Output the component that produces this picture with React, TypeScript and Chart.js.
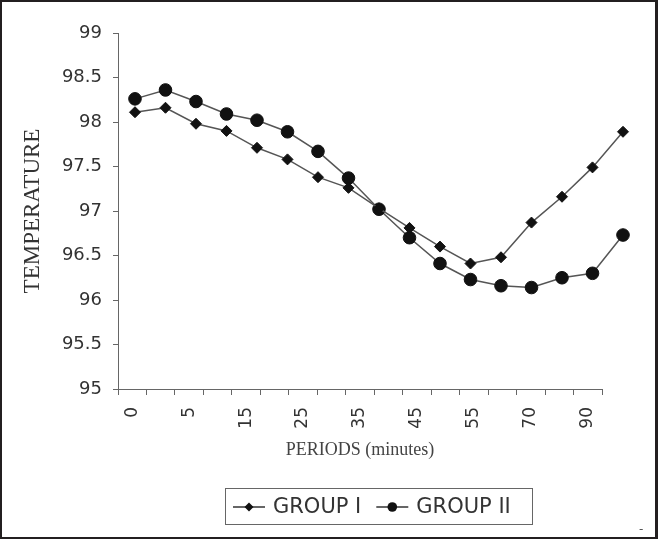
import { useEffect, useRef } from 'react';
import { Chart, registerables } from 'chart.js';
Chart.register(...registerables);

const periods = ['0', '2', '5', '10', '15', '20', '25', '30', '35', '40', '45', '50', '55', '60', '70', '80', '90'];
const groupI = [98.11, 98.16, 97.98, 97.9, 97.71, 97.58, 97.38, 97.26, 97.03, 96.81, 96.6, 96.41, 96.48, 96.87, 97.16, 97.49, 97.89];
const groupII = [98.26, 98.36, 98.23, 98.09, 98.02, 97.89, 97.67, 97.37, 97.02, 96.7, 96.41, 96.23, 96.16, 96.14, 96.25, 96.3, 96.73];
const seriesNames = ['GROUP I', 'GROUP II'];
const yMin = 95;
const yMax = 99;
const yStep = 0.5;

const axisTrimPlugin = {
  id: 'axisTrim',
  afterLayout(chart: any) {
    const s = chart.scales.x;
    s.right = 602;
    s.width = s.right - s.left;
    s.configure();
    s._labelItems = null;
    s._gridLineItems = null;
  },
};

const legendPlugin = {
  id: 'boxLegend',
  afterDraw(chart: any) {
    const ctx = chart.ctx;
    ctx.save();
    ctx.strokeStyle = '#666';
    ctx.lineWidth = 1;
    ctx.strokeRect(225.5, 488.5, 307, 36);
    ctx.font = '21px "DejaVu Sans"';
    ctx.textBaseline = 'middle';
    ctx.fillStyle = '#333';
    const cy = 507;
    let x = 233;
    chart.data.datasets.forEach((ds: any) => {
      ctx.strokeStyle = '#333';
      ctx.lineWidth = 1.5;
      ctx.beginPath();
      ctx.moveTo(x, cy);
      ctx.lineTo(x + 32, cy);
      ctx.stroke();
      ctx.fillStyle = '#111';
      ctx.beginPath();
      const mx = x + 16;
      if (ds.pointStyle === 'rectRot') {
        const r = 4.5;
        ctx.moveTo(mx, cy - r);
        ctx.lineTo(mx + r, cy);
        ctx.lineTo(mx, cy + r);
        ctx.lineTo(mx - r, cy);
        ctx.closePath();
      } else {
        ctx.arc(mx, cy, 4.8, 0, Math.PI * 2);
      }
      ctx.fill();
      x += 40;
      ctx.fillStyle = '#333';
      ctx.fillText(ds.label, x, cy + 1);
      x += ctx.measureText(ds.label).width + 15;
    });
    ctx.font = '12px "DejaVu Sans"';
    ctx.fillStyle = '#555';
    ctx.fillText('-', 639, 530);
    ctx.restore();
  },
};

export default function App() {
  const ref = useRef<HTMLCanvasElement | null>(null);
  useEffect(() => {
    if (!ref.current) return;
    const chart = new Chart(ref.current, {
      type: 'line',
      data: {
        labels: periods,
        datasets: [
          {
            label: seriesNames[0],
            data: groupI.map((v, i) => ({ x: i, y: v })),
            xAxisID: 'x2',
            borderColor: '#555',
            borderWidth: 1.5,
            pointStyle: 'rectRot',
            pointRadius: 5.5,
            pointBackgroundColor: '#111',
            pointBorderColor: '#111',
            pointBorderWidth: 1,
            tension: 0,
            clip: false,
          } as any,
          {
            label: seriesNames[1],
            data: groupII.map((v, i) => ({ x: i, y: v })),
            xAxisID: 'x2',
            borderColor: '#555',
            borderWidth: 1.5,
            pointStyle: 'circle',
            pointRadius: 6.3,
            pointBackgroundColor: '#111',
            pointBorderColor: '#111',
            pointBorderWidth: 1,
            tension: 0,
            clip: false,
          } as any,
        ],
      },
      options: {
        responsive: false,
        animation: false,
        layout: { padding: { left: 0, right: 26, top: 33, bottom: 70 } },
        plugins: { legend: { display: false }, tooltip: { enabled: false } },
        scales: {
          x: {
            type: 'category',
            offset: true,
            grid: { offset: true, drawOnChartArea: false, tickLength: 6, color: '#666' },
            border: { color: '#666', width: 1 },
            ticks: {
              autoSkip: false,
              maxRotation: 90,
              minRotation: 90,
              padding: 12,
              color: '#333',
              font: { family: '"DejaVu Sans"', size: 17 },
              callback: (_v: any, i: number) => (i % 2 === 0 ? periods[i] : ''),
            },
            title: {
              display: true,
              text: 'PERIODS (minutes)',
              color: '#444',
              font: { family: '"Liberation Serif"', size: 18 },
              padding: { top: 0, bottom: 8 },
            },
            afterFit: (s: any) => {
              s.height = 80;
            },
          },
          x2: {
            type: 'linear',
            display: false,
            min: -0.557,
            max: 16.295,
          },
          y: {
            min: yMin,
            max: yMax,
            grid: { drawOnChartArea: false, tickLength: 5, color: '#666' },
            border: { color: '#666', width: 1 },
            ticks: {
              stepSize: yStep,
              padding: 11,
              color: '#333',
              font: { family: '"DejaVu Sans"', size: 18 },
              callback: (v: any) => String(Math.round(Number(v) * 10) / 10),
            },
            title: {
              display: true,
              text: 'TEMPERATURE',
              color: '#333',
              font: { family: '"Liberation Serif"', size: 23 },
              padding: { top: 19, bottom: 0 },
            },
            afterFit: (s: any) => {
              s.width = 118;
            },
          },
        },
      } as any,
      plugins: [axisTrimPlugin, legendPlugin],
    });
    return () => chart.destroy();
  }, []);
  return (
    <div style={{ position: 'absolute', left: 0, top: 0, width: 658, height: 539, background: '#fff' }}>
      <canvas ref={ref} width={658} height={539} style={{ display: 'block' }} />
      <div
        style={{
          position: 'absolute',
          inset: 0,
          boxSizing: 'border-box',
          borderTop: '2px solid #231f20',
          borderLeft: '2px solid #231f20',
          borderRight: '3px solid #231f20',
          borderBottom: '2px solid #231f20',
          pointerEvents: 'none',
        }}
      />
    </div>
  );
}
